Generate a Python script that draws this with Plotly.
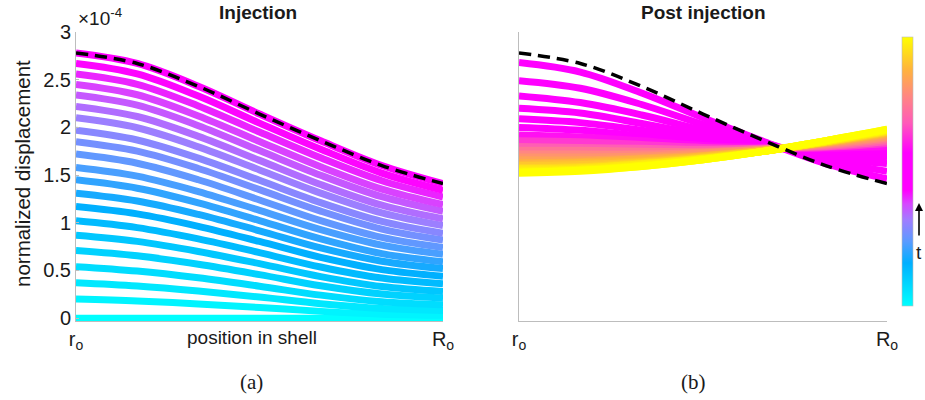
import plotly.graph_objects as go
from plotly.colors import sample_colorscale

# ---------------- data (displacement in units of 1e-4) ----------------
position = [0.0, 1/6, 1/3, 0.5, 2/3, 5/6, 1.0]          # r_o -> R_o (normalized)
x_tick_vals = [0.0, 1.0]
x_tick_text = ["r<sub>o</sub>", "R<sub>o</sub>"]
y_tick_vals = [0, 0.5, 1, 1.5, 2, 2.5, 3]
y_tick_text = ["0", "0.5", "1", "1.5", "2", "2.5", "3"]

steady_state = [2.78, 2.67, 2.43, 2.14, 1.86, 1.60, 1.41]

injection = [
    [0.00, 0.000, 0.000, 0.000, 0.000, 0.000, 0.00],
    [0.20, 0.180, 0.149, 0.112, 0.071, 0.042, 0.03],
    [0.37, 0.336, 0.284, 0.221, 0.152, 0.102, 0.08],
    [0.54, 0.494, 0.423, 0.335, 0.241, 0.172, 0.14],
    [0.71, 0.654, 0.565, 0.456, 0.339, 0.252, 0.21],
    [0.87, 0.805, 0.699, 0.571, 0.435, 0.331, 0.28],
    [1.02, 0.949, 0.831, 0.687, 0.536, 0.420, 0.36],
    [1.17, 1.093, 0.963, 0.804, 0.638, 0.509, 0.44],
    [1.31, 1.228, 1.087, 0.916, 0.737, 0.597, 0.52],
    [1.45, 1.362, 1.209, 1.023, 0.831, 0.677, 0.59],
    [1.58, 1.489, 1.327, 1.130, 0.928, 0.765, 0.67],
    [1.72, 1.624, 1.451, 1.239, 1.022, 0.846, 0.74],
    [1.85, 1.751, 1.569, 1.347, 1.122, 0.934, 0.82],
    [1.97, 1.868, 1.677, 1.445, 1.211, 1.014, 0.89],
    [2.10, 1.996, 1.796, 1.554, 1.311, 1.103, 0.97],
    [2.22, 2.114, 1.906, 1.654, 1.401, 1.184, 1.04],
    [2.34, 2.233, 2.018, 1.757, 1.498, 1.273, 1.12],
    [2.45, 2.342, 2.120, 1.852, 1.587, 1.353, 1.19],
    [2.56, 2.452, 2.225, 1.951, 1.681, 1.440, 1.27],
    [2.67, 2.561, 2.328, 2.045, 1.771, 1.521, 1.34],
    [2.78, 2.670, 2.431, 2.140, 1.859, 1.600, 1.41],
]
injection_time = [0.0, 0.0225, 0.045, 0.0675, 0.09, 0.1125, 0.135, 0.1575,
                  0.18, 0.2025, 0.225, 0.2475, 0.27, 0.2925, 0.315, 0.3375,
                  0.36, 0.3825, 0.405, 0.4275, 0.45]

post_injection = [
    [2.68, 2.58, 2.36, 2.10, 1.85, 1.62, 1.46],
    [2.49, 2.41, 2.24, 2.03, 1.84, 1.66, 1.54],
    [2.33, 2.26, 2.13, 1.97, 1.82, 1.69, 1.62],
    [2.20, 2.15, 2.04, 1.92, 1.81, 1.72, 1.67],
    [2.09, 2.05, 1.97, 1.88, 1.80, 1.74, 1.72],
    [2.00, 1.97, 1.91, 1.84, 1.79, 1.76, 1.76],
    [1.92, 1.90, 1.86, 1.81, 1.79, 1.78, 1.80],
    [1.86, 1.85, 1.82, 1.79, 1.78, 1.79, 1.83],
    [1.80, 1.79, 1.78, 1.77, 1.78, 1.80, 1.85],
    [1.76, 1.76, 1.75, 1.75, 1.77, 1.81, 1.87],
    [1.72, 1.72, 1.72, 1.74, 1.77, 1.82, 1.89],
    [1.69, 1.69, 1.70, 1.73, 1.77, 1.83, 1.90],
    [1.66, 1.66, 1.68, 1.71, 1.76, 1.83, 1.92],
    [1.63, 1.64, 1.67, 1.70, 1.76, 1.84, 1.93],
    [1.61, 1.63, 1.65, 1.70, 1.76, 1.84, 1.94],
    [1.60, 1.61, 1.64, 1.69, 1.76, 1.84, 1.95],
    [1.58, 1.59, 1.63, 1.68, 1.75, 1.85, 1.95],
    [1.57, 1.58, 1.62, 1.68, 1.75, 1.85, 1.96],
    [1.56, 1.57, 1.62, 1.67, 1.75, 1.85, 1.96],
    [1.55, 1.56, 1.61, 1.67, 1.75, 1.85, 1.97],
    [1.54, 1.56, 1.60, 1.67, 1.75, 1.86, 1.97],
    [1.53, 1.55, 1.60, 1.66, 1.75, 1.86, 1.97],
    [1.53, 1.55, 1.59, 1.66, 1.75, 1.86, 1.98],
    [1.52, 1.54, 1.59, 1.66, 1.75, 1.86, 1.98],
]
post_time = [0.50, 0.51, 0.52, 0.53, 0.54, 0.56, 0.59, 0.64, 0.69, 0.74,
             0.78, 0.81, 0.84, 0.87, 0.89, 0.91, 0.93, 0.95, 0.96, 0.97,
             0.98, 0.99, 1.00, 1.00]

# ---------------- style ----------------
colorscale = [
    [0.00, "rgb(0,255,255)"],
    [0.08, "rgb(0,215,255)"],
    [0.16, "rgb(0,175,255)"],
    [0.24, "rgb(90,155,255)"],
    [0.32, "rgb(160,125,255)"],
    [0.38, "rgb(215,70,255)"],
    [0.43, "rgb(255,0,255)"],
    [0.57, "rgb(255,0,255)"],
    [0.68, "rgb(255,90,185)"],
    [0.78, "rgb(255,135,130)"],
    [0.88, "rgb(255,180,60)"],
    [1.00, "rgb(255,255,0)"],
]
W, H = 925, 400
LW = 7
SANS = "Liberation Sans, Arial, Helvetica, sans-serif"
SERIF = "Liberation Serif, Times New Roman, serif"
AXC = "#bdbdbd"
TXT = "#1a1a1a"

fig = go.Figure()

for vals, t in zip(injection, injection_time):
    c = sample_colorscale(colorscale, [t])[0]
    fig.add_trace(go.Scatter(x=position, y=vals, mode="lines",
                             line=dict(color=c, width=LW, shape="spline"),
                             xaxis="x", yaxis="y", showlegend=False, hoverinfo="skip"))
fig.add_trace(go.Scatter(x=position, y=steady_state, mode="lines",
                         line=dict(color="black", width=3.5, dash="12px,7px", shape="spline"),
                         xaxis="x", yaxis="y", showlegend=False, hoverinfo="skip"))

for vals, t in zip(post_injection, post_time):
    c = sample_colorscale(colorscale, [t])[0]
    fig.add_trace(go.Scatter(x=position, y=vals, mode="lines",
                             line=dict(color=c, width=LW, shape="spline"),
                             xaxis="x2", yaxis="y2", showlegend=False, hoverinfo="skip"))
fig.add_trace(go.Scatter(x=position, y=steady_state, mode="lines",
                         line=dict(color="black", width=3.5, dash="12px,7px", shape="spline"),
                         xaxis="x2", yaxis="y2", showlegend=False, hoverinfo="skip"))

# colorbar carrier (no visible marks)
fig.add_trace(go.Scatter(x=[None], y=[None], mode="markers", xaxis="x2", yaxis="y2",
                         showlegend=False, hoverinfo="skip",
                         marker=dict(color=[0, 1], cmin=0, cmax=1, colorscale=colorscale,
                                     showscale=True,
                                     colorbar=dict(x=902 / W, xanchor="left", xpad=0, ypad=0,
                                                   y=1 - 171.5 / H, yanchor="middle",
                                                   len=269 / H, lenmode="fraction",
                                                   thickness=11, thicknessmode="pixels",
                                                   showticklabels=False, ticks="",
                                                   outlinewidth=0.6, outlinecolor=AXC))))

ydom = [1 - 321 / H, 1 - 32 / H]
common_x = dict(range=[0, 1], tickvals=x_tick_vals, ticktext=x_tick_text,
                showline=True, linecolor=AXC, linewidth=1, showgrid=False, zeroline=False,
                ticks="", tickfont=dict(family=SANS, size=20, color=TXT))
fig.update_layout(
    width=W, height=H, margin=dict(l=0, r=0, t=0, b=0, autoexpand=False),
    paper_bgcolor="white", plot_bgcolor="white",
    xaxis=dict(domain=[76 / W, 443 / W], anchor="y", **common_x),
    yaxis=dict(domain=ydom, range=[-0.03, 3.0], anchor="x", tickvals=y_tick_vals,
               ticktext=y_tick_text, showline=True, linecolor=AXC, linewidth=1,
               showgrid=False, zeroline=False, ticks="inside", ticklen=3, tickcolor=AXC,
               tickfont=dict(family=SANS, size=20, color=TXT)),
    xaxis2=dict(domain=[519 / W, 887 / W], anchor="y2", **common_x),
    yaxis2=dict(domain=ydom, range=[-0.03, 3.0], anchor="x2", showticklabels=False,
                showline=True, linecolor=AXC, linewidth=1, showgrid=False,
                zeroline=False, ticks=""),
)

def px_ann(text, x, y, size=19, family=SANS, xanchor="center", **kw):
    fig.add_annotation(text=text, x=x / W, y=1 - y / H, xref="paper", yref="paper",
                       xanchor=xanchor, yanchor="middle",
                       showarrow=False, font=dict(family=family, size=size, color=TXT),
                       **kw)

px_ann("<b>Injection</b>", 258, 13)
px_ann("<b>Post injection</b>", 703, 13)
px_ann("×10<sup>-4</sup>", 76, 17, xanchor="left")
px_ann("normalized displacement", 22, 174, size=20.5, textangle=-90)
px_ann("position in shell", 252, 337)
px_ann("(a)", 251, 382, size=21, family=SERIF)
px_ann("(b)", 693, 382, size=21, family=SERIF)
px_ann("t", 919, 252)
fig.add_annotation(x=919 / W, y=1 - 203 / H, xref="paper", yref="paper", text="",
                   showarrow=True, ax=0, ay=34, axref="pixel", ayref="pixel",
                   arrowhead=2, arrowsize=1, arrowwidth=1.6, arrowcolor="black")

fig.write_html("out.html",
               config={"displayModeBar": False, "staticPlot": True},
               post_script="document.body.style.margin='0px';document.body.style.padding='0px';")
